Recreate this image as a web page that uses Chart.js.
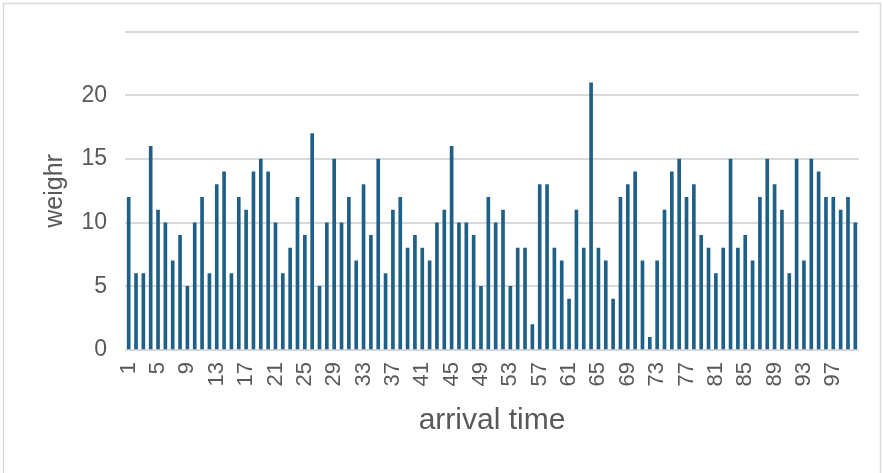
<!DOCTYPE html>
<html>
<head>
<meta charset="utf-8">
<script src="https://cdn.jsdelivr.net/npm/chart.js@4"></script>
<style>
  html, body { margin: 0; padding: 0; background: #fff; }
  #wrap { width: 883px; height: 473px; position: relative; }
</style>
</head>
<body>
<div id="wrap"><canvas id="c" width="883" height="473"></canvas></div>
<script>
// arrival time 1..100
const arrivalTimes = Array.from({ length: 100 }, (_, i) => String(i + 1));

// weights
const weights = [
    12, 6, 6, 16, 11, 10, 7, 9, 5, 10,
    12, 6, 13, 14, 6, 12, 11, 14, 15, 14,
    10, 6, 8, 12, 9, 17, 5, 10, 15, 10,
    12, 7, 13, 9, 15, 6, 11, 12, 8, 9,
    8, 7, 10, 11, 16, 10, 10, 9, 5, 12,
    10, 11, 5, 8, 8, 2, 13, 13, 8, 7,
    4, 11, 8, 21, 8, 7, 4, 12, 13, 14,
    7, 1, 7, 11, 14, 15, 12, 13, 9, 8,
    6, 8, 15, 8, 9, 7, 12, 15, 13, 11,
    6, 15, 7, 15, 14, 12, 12, 11, 12, 10
];

const yTicks = [0, 5, 10, 15, 20];

const TEXT = '#595959';
const GRID = '#d9d9d9';
const BAR = '#1f6088';
const FONT = '"Liberation Sans", Arial, sans-serif';

// light frame round the chart
const frame = {
    id: 'frame',
    beforeDraw(chart) {
        const ctx = chart.ctx;
        ctx.save();
        ctx.strokeStyle = GRID;
        ctx.lineWidth = 1.5;
        ctx.strokeRect(3.5, 3.5, 877, 480);
        ctx.restore();
    }
};

new Chart(document.getElementById('c').getContext('2d'), {
    type: 'bar',
    data: { labels: arrivalTimes, datasets: [{ data: weights, backgroundColor: BAR, barThickness: 3 }] },
    options: {
        responsive: false, animation: false, devicePixelRatio: 1,
        layout: { padding: { top: 31, right: 24, left: 0, bottom: 0 } },
        plugins: { legend: { display: false }, tooltip: { enabled: false } },
        scales: {
            x: {
                grid: { display: false, drawTicks: false },
                border: { display: false },
                ticks: {
                    autoSkip: false, minRotation: 90, maxRotation: 90, padding: 12,
                    color: TEXT, font: { family: FONT, size: 22 },
                    callback: (v, i) => (i % 4 === 0 ? arrivalTimes[i] : '')
                },
                title: { display: true, text: 'arrival time', color: TEXT, font: { family: FONT, size: 30 }, padding: { top: 0, bottom: 34 } },
                afterFit: s => { s.height = 123; s.paddingLeft = 0; s.paddingRight = 0; }
            },
            y: {
                min: 0, max: 25,
                grid: { color: GRID, lineWidth: 2, drawTicks: false },
                border: { display: false },
                ticks: {
                    stepSize: 5, padding: 18, color: TEXT, font: { family: FONT, size: 23 },
                    callback: v => (yTicks.includes(v) ? String(v) : '')
                },
                title: { display: true, text: 'weighr', color: TEXT, font: { family: FONT, size: 25 }, padding: { top: 40, bottom: 0 } },
                afterFit: s => { s.width = 125; }
            }
        }
    },
    plugins: [frame]
});
</script>
</body>
</html>
